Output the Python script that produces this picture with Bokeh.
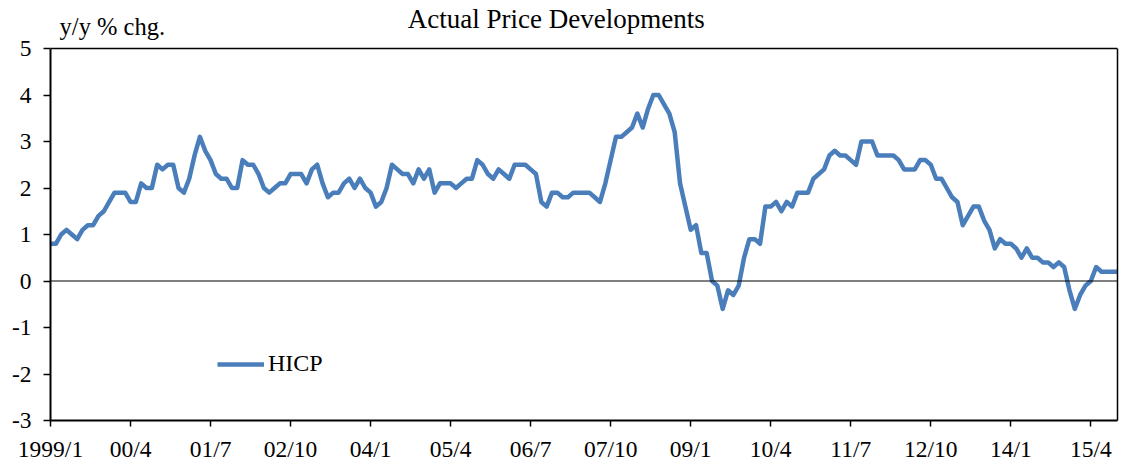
from bokeh.plotting import figure
from bokeh.models import Range1d, FixedTicker, Span, Label, Legend, LegendItem, LinearAxis
from bokeh.embed import file_html
from bokeh.resources import INLINE

# ---- data (euro area HICP, y/y % change, monthly from 1999/1) ----
hicp_1999 = [0.8, 0.8, 1.0, 1.1, 1.0, 0.9, 1.1, 1.2, 1.2, 1.4, 1.5, 1.7]
hicp_2000 = [1.9, 1.9, 1.9, 1.7, 1.7, 2.1, 2.0, 2.0, 2.5, 2.4, 2.5, 2.5]
hicp_2001 = [2.0, 1.9, 2.2, 2.7, 3.1, 2.8, 2.6, 2.3, 2.2, 2.2, 2.0, 2.0]
hicp_2002 = [2.6, 2.5, 2.5, 2.3, 2.0, 1.9, 2.0, 2.1, 2.1, 2.3, 2.3, 2.3]
hicp_2003 = [2.1, 2.4, 2.5, 2.1, 1.8, 1.9, 1.9, 2.1, 2.2, 2.0, 2.2, 2.0]
hicp_2004 = [1.9, 1.6, 1.7, 2.0, 2.5, 2.4, 2.3, 2.3, 2.1, 2.4, 2.2, 2.4]
hicp_2005 = [1.9, 2.1, 2.1, 2.1, 2.0, 2.1, 2.2, 2.2, 2.6, 2.5, 2.3, 2.2]
hicp_2006 = [2.4, 2.3, 2.2, 2.5, 2.5, 2.5, 2.4, 2.3, 1.7, 1.6, 1.9, 1.9]
hicp_2007 = [1.8, 1.8, 1.9, 1.9, 1.9, 1.9, 1.8, 1.7, 2.1, 2.6, 3.1, 3.1]
hicp_2008 = [3.2, 3.3, 3.6, 3.3, 3.7, 4.0, 4.0, 3.8, 3.6, 3.2, 2.1, 1.6]
hicp_2009 = [1.1, 1.2, 0.6, 0.6, 0.0, -0.1, -0.6, -0.2, -0.3, -0.1, 0.5, 0.9]
hicp_2010 = [0.9, 0.8, 1.6, 1.6, 1.7, 1.5, 1.7, 1.6, 1.9, 1.9, 1.9, 2.2]
hicp_2011 = [2.3, 2.4, 2.7, 2.8, 2.7, 2.7, 2.6, 2.5, 3.0, 3.0, 3.0, 2.7]
hicp_2012 = [2.7, 2.7, 2.7, 2.6, 2.4, 2.4, 2.4, 2.6, 2.6, 2.5, 2.2, 2.2]
hicp_2013 = [2.0, 1.8, 1.7, 1.2, 1.4, 1.6, 1.6, 1.3, 1.1, 0.7, 0.9, 0.8]
hicp_2014 = [0.8, 0.7, 0.5, 0.7, 0.5, 0.5, 0.4, 0.4, 0.3, 0.4, 0.3, -0.2]
hicp_2015 = [-0.6, -0.3, -0.1, 0.0, 0.3, 0.2, 0.2, 0.2, 0.2]

tick_labels = ["1999/1", "00/4", "01/7", "02/10", "04/1", "05/4", "06/7",
               "07/10", "09/1", "10/4", "11/7", "12/10", "14/1", "15/4"]
y_ticks = [-3, -2, -1, 0, 1, 2, 3, 4, 5]

hicp = (hicp_1999 + hicp_2000 + hicp_2001 + hicp_2002 + hicp_2003 + hicp_2004 +
        hicp_2005 + hicp_2006 + hicp_2007 + hicp_2008 + hicp_2009 + hicp_2010 +
        hicp_2011 + hicp_2012 + hicp_2013 + hicp_2014 + hicp_2015)
month_idx = list(range(len(hicp)))
tick_pos = [15 * i for i in range(len(tick_labels))]

FONT = "Liberation Serif"
BLUE = "#4A7EBB"
Y_MIN, Y_MAX = y_ticks[0], y_ticks[-1]
PX = 46.5                    # pixels per unit on the y axis
Y_TOP = Y_MAX + 48 / PX      # headroom above the plot box for the title texts

p = figure(width=1122, height=466, output_backend="svg", toolbar_location=None,
           x_range=Range1d(0, 200), y_range=Range1d(Y_MIN, Y_TOP),
           min_border_left=50, min_border_right=5, min_border_top=0, min_border_bottom=46)
p.background_fill_color = "white"
p.border_fill_color = "white"
p.outline_line_color = None
p.xgrid.visible = False
p.ygrid.visible = False

r = p.line(month_idx, hicp, line_color=BLUE, line_width=4.5, line_join="round")

# zero line and top border of the plot box
p.add_layout(Span(location=0, dimension="width", line_color="black", line_width=1.2))
p.add_layout(Span(location=Y_MAX, dimension="width", line_color="black", line_width=1.5))

# axes
p.xaxis.ticker = FixedTicker(ticks=tick_pos)
p.xaxis.major_label_overrides = {t: l for t, l in zip(tick_pos, tick_labels)}
p.yaxis.ticker = FixedTicker(ticks=y_ticks)
p.yaxis.major_label_overrides = {t: str(t) for t in y_ticks}
p.yaxis.bounds = (Y_MIN, Y_MAX)
for ax in (p.xaxis[0], p.yaxis[0]):
    ax.axis_line_color = "black"
    ax.axis_line_width = 2
    ax.major_tick_line_color = "black"
    ax.major_tick_line_width = 1.5
    ax.major_tick_in = 0
    ax.minor_tick_line_color = None
    ax.major_label_text_font = FONT
    ax.major_label_text_font_size = "23.5px"
    ax.major_label_text_color = "black"
p.xaxis.major_tick_out = 6
p.xaxis.major_label_standoff = 9
p.yaxis.major_tick_out = 7
p.yaxis.major_label_standoff = 12

right_axis = LinearAxis(ticker=FixedTicker(ticks=[]), bounds=(Y_MIN, Y_MAX),
                        axis_line_color="black", axis_line_width=1.5,
                        major_tick_line_color=None, minor_tick_line_color=None,
                        major_label_text_font_size="0px")
p.add_layout(right_axis, "right")

# title and unit label
p.add_layout(Label(x=94.8, y=Y_MAX + 30 / PX, text="Actual Price Developments",
                   text_align="center", text_baseline="alphabetic", text_font=FONT,
                   text_font_size="27px", text_color="black"))
p.add_layout(Label(x=1.7, y=Y_MAX + 22 / PX, text="y/y % chg.", text_align="left",
                   text_baseline="alphabetic", text_font=FONT, text_font_size="24.5px",
                   text_color="black"))

legend = Legend(items=[LegendItem(label="HICP", renderers=[r])], location=(167, 43),
                glyph_width=47, glyph_height=24, label_height=24, label_standoff=4,
                padding=0, margin=0, spacing=0,
                border_line_alpha=0, background_fill_alpha=0,
                label_text_font=FONT, label_text_font_size="24px", label_text_color="black")
p.add_layout(legend)

open("out.html", "w").write(file_html(p, INLINE))
